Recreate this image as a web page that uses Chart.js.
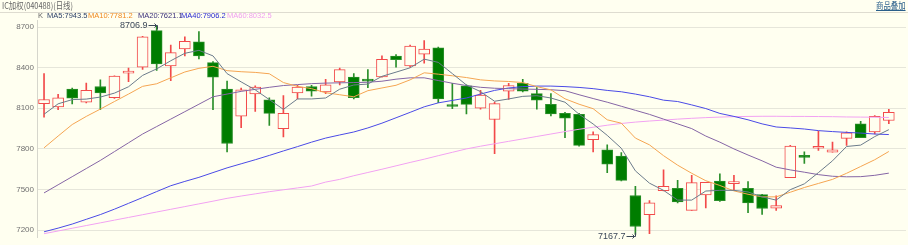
<!DOCTYPE html>
<html>
<head>
<meta charset="utf-8">
<script src="https://cdn.jsdelivr.net/npm/chart.js@4.4.0/dist/chart.umd.min.js"></script>
<style>
  html, body { margin: 0; padding: 0; background: #fffff0; }
  body { width: 908px; height: 245px; position: relative; overflow: hidden; font-family: "Liberation Sans", "Noto Sans CJK SC", sans-serif; }
  #k { position: absolute; left: 0; top: 0; }
  .hdr { position: absolute; top: 0; font-size: 9px; line-height: 12px; color: #666; font-family: "Noto Sans CJK SC", sans-serif; transform: scaleX(0.82); transform-origin: left top; white-space: nowrap; }
  .sep { position: absolute; left: 0; top: 12px; width: 908px; height: 1px; background: #dedcd0; }
  .lg { position: absolute; top: 11px; font-size: 7.5px; line-height: 10px; white-space: nowrap; }
</style>
</head>
<body>
<canvas id="k" width="908" height="245"></canvas>
<div class="hdr" style="left:2px;">IC加权(040488)(日线)</div>
<div class="hdr" style="left:876px;color:#2a5f8a;text-decoration:underline;">商品叠加</div>
<div class="sep"></div>
<div class="lg" style="left:38px;color:#666;">K</div>
<div class="lg" style="left:47px;color:#2b3f66;">MA5:7943.5</div>
<div class="lg" style="left:88px;color:#f08a20;">MA10:7781.2</div>
<div class="lg" style="left:138px;color:#3a2f7a;">MA20:7621.1</div>
<div class="lg" style="left:181px;color:#2828d0;">MA40:7906.2</div>
<div class="lg" style="left:227px;color:#f0a0f0;">MA60:8032.5</div>
<script>
// 日K数据
const opens  = [8134, 8110, 8241, 8146, 8261, 8179, 8360, 8404, 8674, 8413,
                8538, 8590, 8437, 8241, 8041, 8206, 8163, 7950, 8213, 8261,
                8220, 8294, 8330, 8313, 8332, 8485, 8413, 8499, 8547, 8127,
                8265, 8101, 8017, 8227, 8284, 8208, 8129, 8062, 8055, 7869,
                7793, 7747, 7456, 7315, 7492, 7508, 7346, 7461, 7563, 7544,
                7508, 7463, 7363, 7587, 7742, 7805, 7776, 7878, 7986, 7926, 8010];
const closes = [8165, 8177, 8175, 8232, 8213, 8337, 8366, 8628, 8428, 8511,
                8595, 8487, 8330, 7840, 8237, 8256, 8062, 8062, 8256, 8227,
                8273, 8385, 8179, 8301, 8461, 8459, 8559, 8538, 8170, 8113,
                8129, 8198, 8134, 8268, 8227, 8160, 8058, 8027, 7826, 7905,
                7687, 7568, 7227, 7401, 7523, 7408, 7551, 7554, 7418, 7559,
                7401, 7360, 7382, 7821, 7738, 7819, 7793, 7919, 7883, 8041, 8070];
const highs  = [8356, 8203, 8249, 8287, 8311, 8340, 8397, 8632, 8706.9, 8566,
                8628, 8667, 8445, 8301, 8249, 8265, 8177, 8194, 8270, 8270,
                8313, 8397, 8356, 8385, 8487, 8497, 8566, 8600, 8552, 8284,
                8273, 8232, 8146, 8284, 8313, 8253, 8208, 8070, 8062, 7926,
                7831, 7773, 7523, 7418, 7645, 7568, 7604, 7554, 7616, 7604,
                7559, 7465, 7454, 7826, 7778, 7931, 7850, 7926, 8003, 8046, 8093];
const lows   = [8034, 8089, 8132, 8139, 8089, 8172, 8296, 8387, 8380, 8304,
                8487, 8464, 8089, 7778, 7957, 8077, 7974, 7888, 8170, 8189,
                8208, 8273, 8170, 8253, 8330, 8404, 8404, 8433, 8141, 8098,
                8058, 8093, 7764, 8165, 8220, 8093, 8043, 7883, 7821, 7778,
                7625, 7563, 7167.7, 7174, 7490, 7401, 7346, 7365, 7413, 7496,
                7329, 7317, 7346, 7587, 7693, 7788, 7776, 7826, 7883, 7910, 7986];

// 均线
const ma5  = [8056, 8133, 8164, 8168, 8183, 8212, 8259, 8343, 8391, 8451,
              8506, 8528, 8487, 8356, 8295, 8236, 8164, 8092, 8169, 8169,
              8176, 8241, 8272, 8279, 8336, 8367, 8399, 8463, 8439, 8356,
              8272, 8223, 8152, 8169, 8188, 8193, 8176, 8145, 8056, 7984,
              7900, 7805, 7638, 7547, 7494, 7422, 7422, 7489, 7494, 7494,
              7482, 7446, 7422, 7499, 7542, 7625, 7712, 7818, 7828, 7891, 7942];
const ma10 = [7808, 7895, 7980, 8040, 8094, 8150, 8205, 8262, 8281, 8325,
              8368, 8395, 8410, 8378, 8370, 8365, 8355, 8290, 8262, 8245,
              8215, 8200, 8185, 8230, 8250, 8270, 8310, 8362, 8352, 8340,
              8327, 8310, 8302, 8298, 8290, 8260, 8236, 8170, 8130, 8097,
              8015, 7990, 7880, 7830, 7750, 7680, 7620, 7565, 7530, 7490,
              7465, 7446, 7446, 7480, 7515, 7545, 7575, 7620, 7670, 7720, 7781];
const ma20 = [7475, 7535, 7595, 7655, 7715, 7780, 7845, 7910, 7965, 8020,
              8075, 8130, 8185, 8205, 8225, 8240, 8255, 8268, 8275, 8282,
              8286, 8288, 8290, 8292, 8300, 8315, 8325, 8325, 8305, 8285,
              8268, 8255, 8248, 8245, 8242, 8240, 8237, 8230, 8200, 8172,
              8145, 8115, 8085, 8055, 8020, 7985, 7950, 7895, 7850, 7800,
              7755, 7712, 7665, 7645, 7628, 7610, 7598, 7594, 7595, 7605, 7621];
const ma40 = [7188, 7215, 7245, 7280, 7315, 7355, 7398, 7441, 7485, 7528,
              7560, 7590, 7625, 7660, 7690, 7720, 7752, 7785, 7817, 7850,
              7880, 7903, 7925, 7955, 7990, 8030, 8070, 8111, 8140, 8158,
              8176, 8205, 8232, 8250, 8260, 8264, 8264, 8260, 8254, 8245,
              8232, 8222, 8205, 8185, 8160, 8150, 8125, 8098, 8062, 8040,
              8015, 7985, 7962, 7955, 7947, 7935, 7928, 7922, 7917, 7910, 7906];
const ma60 = [7174, 7194, 7214, 7234, 7254, 7274, 7294, 7314, 7334, 7354,
              7374, 7394, 7414, 7435, 7452, 7468, 7484, 7498, 7512, 7526,
              7555, 7575, 7602, 7626, 7650, 7675, 7700, 7724, 7750, 7775,
              7800, 7820, 7838, 7856, 7874, 7892, 7910, 7928, 7945, 7960,
              7975, 7988, 7998, 8006, 8013, 8020, 8026, 8031, 8035, 8038,
              8040, 8041, 8041, 8040, 8040, 8039, 8038, 8036, 8035, 8034, 8032];

const yTicks = [7200, 7500, 7800, 8100, 8400, 8700];

const C = {
  bg: '#fffff0',
  up: '#f24a4a',
  down: '#007d00',
  downBorder: '#2a8f2a',
  grid: '#e6e6da',
  axis: '#d6d6cc',
  tick: '#707070',
  note: '#3c4858'
};

const idx = opens.map((_, i) => i);
const isUp = i => closes[i] >= opens[i];

function maLine(label, values, color) {
  return {
    type: 'line',
    label,
    data: idx.map(i => ({ x: i, y: values[i] })),
    borderColor: color,
    borderWidth: 1,
    pointRadius: 0,
    tension: 0,
    order: 0
  };
}

// 最高/最低价标注
const markPlugin = {
  id: 'hiLoMarks',
  afterDatasetsDraw(chart) {
    const { ctx, scales: { x, y } } = chart;
    const hi = highs.indexOf(Math.max(...highs));
    const lo = lows.indexOf(Math.min(...lows));
    ctx.save();
    ctx.font = '9px "Liberation Sans", "DejaVu Sans", sans-serif';
    ctx.fillStyle = C.note;
    ctx.strokeStyle = C.note;
    ctx.lineWidth = 1;
    ctx.textAlign = 'right';
    ctx.textBaseline = 'middle';

    const mark = (i, v, dir) => {
      const cx = Math.round(x.getPixelForValue(i)) + 0.5;
      const vy = y.getPixelForValue(v);
      const ty = Math.round(vy - dir * 1) + 0.5;
      ctx.fillText(v.toFixed(1), cx - 10, ty);
      ctx.beginPath();
      ctx.moveTo(cx - 9, ty);
      ctx.lineTo(cx, ty);
      ctx.lineTo(cx, ty + dir * 4);
      ctx.moveTo(cx - 3, ty - 2);
      ctx.lineTo(cx - 1, ty);
      ctx.lineTo(cx - 3, ty + 2);
      ctx.stroke();
    };
    mark(hi, highs[hi], 1);
    mark(lo, lows[lo], -1);
    ctx.restore();
  }
};

new Chart(document.getElementById('k'), {
  type: 'bar',
  data: {
    datasets: [
      maLine('MA5', ma5, '#6b7b8b'),
      maLine('MA10', ma10, '#f5a552'),
      maLine('MA20', ma20, '#8565a5'),
      maLine('MA40', ma40, '#4a4ae6'),
      maLine('MA60', ma60, '#f2a2f2'),
      {
        label: 'body',
        data: idx.map(i => ({ x: i, y: [opens[i], closes[i]] })),
        backgroundColor: c => isUp(c.dataIndex) ? C.bg : C.down,
        borderColor: c => isUp(c.dataIndex) ? C.up : C.downBorder,
        borderWidth: 1,
        borderSkipped: false,
        barThickness: 11,
        minBarLength: 2,
        grouped: false,
        order: 1
      },
      {
        label: 'wick',
        data: idx.map(i => ({ x: i, y: [lows[i], highs[i]] })),
        backgroundColor: c => isUp(c.dataIndex) ? C.up : C.downBorder,
        borderWidth: 0,
        barThickness: 1,
        grouped: false,
        order: 2
      }
    ]
  },
  options: {
    responsive: false,
    animation: false,
    layout: { padding: { top: 20, right: 2, bottom: 1, left: 0 } },
    plugins: {
      legend: { display: false },
      tooltip: { enabled: false }
    },
    scales: {
      x: {
        type: 'linear',
        offset: false,
        min: -0.5,
        max: 61.22,
        display: false
      },
      y: {
        min: 7148,
        max: 8752,
        grid: { color: C.grid, drawTicks: false },
        border: { color: C.axis },
        ticks: {
          color: C.tick,
          padding: 3,
          font: { size: 8, family: '"Liberation Sans", sans-serif' },
          callback: v => String(v)
        },
        afterBuildTicks(s) { s.ticks = yTicks.map(v => ({ value: v })); },
        afterFit(s) { s.width = 37; }
      }
    }
  },
  plugins: [markPlugin]
});
</script>
</body>
</html>
